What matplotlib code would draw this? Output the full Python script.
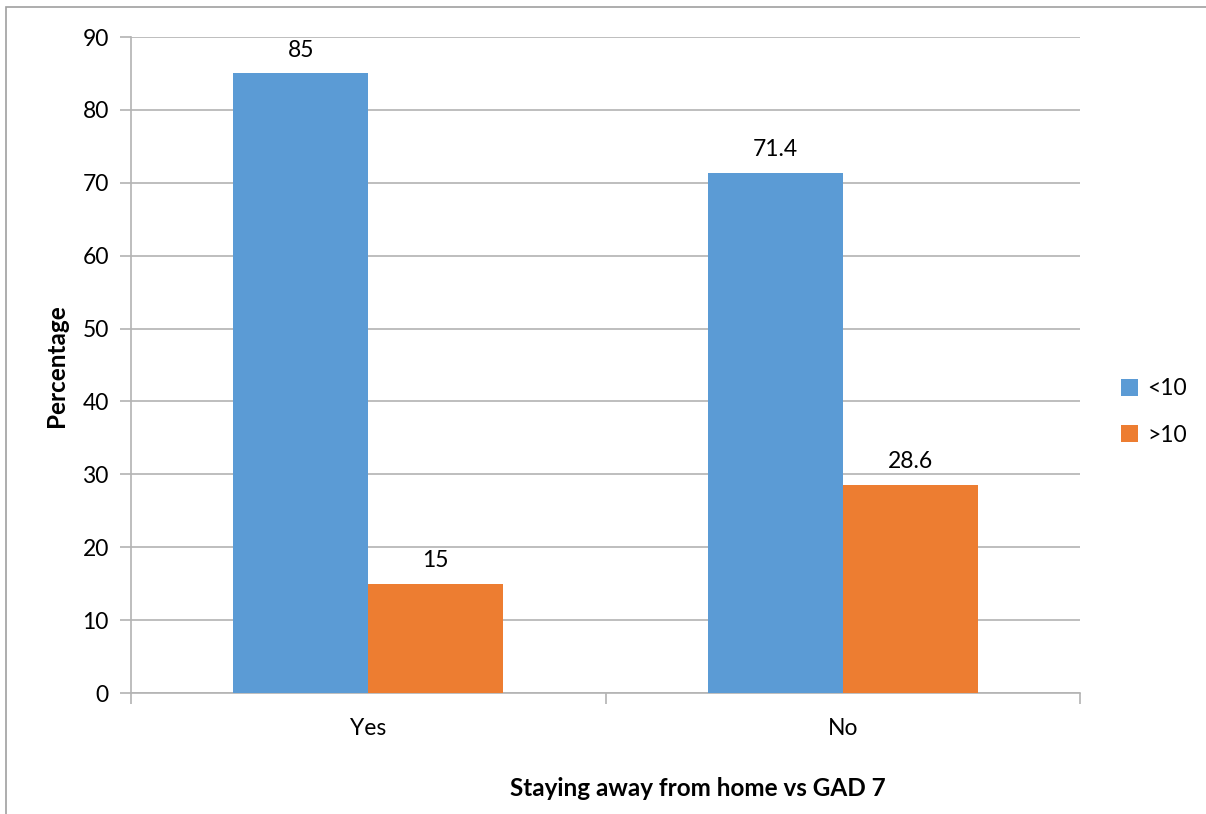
import numpy as np
import matplotlib.pyplot as plt
from matplotlib.patches import Rectangle

plt.rcParams['font.family'] = ['Lato', 'DejaVu Sans']

categories = ['Yes', 'No']
series_names = ['<10', '>10']
low_vals = [85, 71.4]
high_vals = [15, 28.6]
low_labels = ['85', '71.4']
high_labels = ['15', '28.6']

blue = '#5b9bd5'
orange = '#ed7d31'
grid_c = '#b3b3b3'
fs = 16.5

fig = plt.figure(figsize=(12.06, 8.14), dpi=100)
ax = fig.add_axes([131/1206, 1-693/814, (1080-131)/1206, (693-37)/814])

x = np.arange(len(categories))
w = 0.2845
b1 = ax.bar(x - w/2, low_vals, w, color=blue, label=series_names[0], zorder=3)
b2 = ax.bar(x + w/2, high_vals, w, color=orange, label=series_names[1], zorder=3)

for bars, labs in [(b1, low_labels), (b2, high_labels)]:
    for r, t in zip(bars, labs):
        ax.annotate(t, (r.get_x() + r.get_width()/2, r.get_height()), xytext=(0, 9),
                    textcoords='offset points', ha='center', va='bottom', fontsize=fs)

ax.set_xlim(-0.5, 1.5)
ax.set_ylim(0, 90)
ax.set_yticks(range(0, 91, 10))
ax.yaxis.grid(True, color=grid_c, linewidth=1.2, zorder=0)
ax.set_axisbelow(True)

ax.set_xticks(x)
ax.set_xticklabels(categories, fontsize=fs)
ax.tick_params(axis='x', length=0, pad=18)
ax.set_xticks([-0.5, 0.5, 1.5], minor=True)
ax.tick_params(axis='x', which='minor', length=8, color=grid_c, width=1.2)
ax.tick_params(axis='y', length=8, color=grid_c, width=1.2, labelsize=fs, pad=8)

for s in ['top', 'right']:
    ax.spines[s].set_visible(False)
for s in ['left', 'bottom']:
    ax.spines[s].set_color(grid_c)
    ax.spines[s].set_linewidth(1.2)

fig.text(698/1206, 1-788/814, 'Staying away from home vs GAD 7', ha='center', va='center',
         fontsize=17.5, fontweight='bold')
fig.text(57/1206, 1-366/814, 'Percentage', ha='center', va='center', rotation=90,
         fontsize=17.5, fontweight='bold')

fig.legend(handles=[b1, b2], labels=series_names, loc='center left',
           bbox_to_anchor=(1100/1206, 1-412/814), frameon=False, fontsize=fs,
           handlelength=0.75, handleheight=0.75, labelspacing=1.1, handletextpad=0.4)

fig.patches.append(Rectangle((6/1206, -0.1), 1.2, 1.1 - 7/814, transform=fig.transFigure,
                             fill=False, edgecolor='#a0a0a0', linewidth=1.2))

fig.savefig('out.png', dpi=100)
